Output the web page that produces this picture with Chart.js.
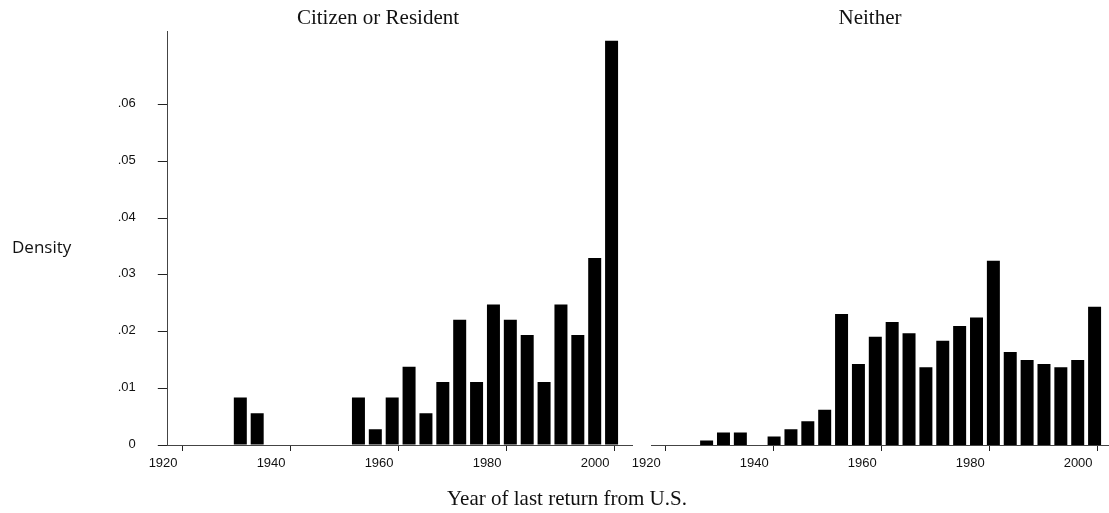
<!DOCTYPE html>
<html>
<head>
<meta charset="utf-8">
<script src="https://cdn.jsdelivr.net/npm/chart.js@4.4.1/dist/chart.umd.min.js"></script>
<style>
  html, body { margin: 0; padding: 0; background: #fff; }
  body { width: 1109px; height: 513px; position: relative; overflow: hidden; }
  canvas { position: absolute; top: 0; }
  .t { position: absolute; white-space: nowrap; color: #111; line-height: 21px; font-size: 21px;
       font-family: "Liberation Serif", "Times New Roman", serif; text-align: center; }
  #ylab { position: absolute; left: 12px; top: 238px; font-family: "Open Sans", sans-serif;
          font-size: 17px; line-height: 17px; color: #111; }
</style>
</head>
<body>
<canvas id="left" width="640" height="513" style="left:0px"></canvas>
<canvas id="right" width="500" height="513" style="left:620px"></canvas>
<div class="t" style="left:278px; top:7px; width:200px;">Citizen or Resident</div>
<div class="t" style="left:770px; top:7px; width:200px;">Neither</div>
<div class="t" style="left:417px; top:488px; width:300px;">Year of last return from U.S.</div>
<div id="ylab">Density</div>
<script>
// Histogram bins: 24 bins of width 3.125 years starting at 1926 (bin midpoints)
const binMidpoints = [
  1927.563, 1930.688, 1933.813, 1936.938, 1940.063, 1943.188, 1946.313, 1949.438,
  1952.563, 1955.688, 1958.813, 1961.938, 1965.063, 1968.188, 1971.313, 1974.438,
  1977.563, 1980.688, 1983.813, 1986.938, 1990.063, 1993.188, 1996.313, 1999.438
];

// Density per bin, panel "Citizen or Resident"
const densityCitizen = [
  0, 0.0084, 0.0056, 0, 0, 0, 0, 0,
  0.0084, 0.0028, 0.0084, 0.0138, 0.0056, 0.0111, 0.0221, 0.0111,
  0.0248, 0.0221, 0.0194, 0.0111, 0.0248, 0.0194, 0.0330, 0.0713
];

// Density per bin, panel "Neither"
const densityNeither = [
  0.0008, 0.0022, 0.0022, 0, 0.0015, 0.0028, 0.0042, 0.0062,
  0.0231, 0.0143, 0.0191, 0.0217, 0.0197, 0.0137, 0.0184, 0.0210,
  0.0225, 0.0325, 0.0164, 0.0150, 0.0143, 0.0137, 0.0150, 0.0244
];

const xTickValues = [1920, 1940, 1960, 1980, 2000];
const yTickValues = [0, 0.01, 0.02, 0.03, 0.04, 0.05, 0.06];
const yTickLabels = ['0', '.01', '.02', '.03', '.04', '.05', '.06'];

const X_MIN = 1917.26, X_MAX = 2003.22;
const Y_MAX = 0.0729;

const tickFont = { family: '"Liberation Sans", Arial, sans-serif', size: 13 };
const axisColor = '#444';

function makeChart(id, values, showY, padding) {
  const points = values.map((v, i) => ({ x: binMidpoints[i], y: v }));
  return new Chart(document.getElementById(id), {
    type: 'bar',
    data: {
      datasets: [{
        data: points,
        backgroundColor: '#000',
        borderWidth: 0,
        barPercentage: 0.77,
        categoryPercentage: 1.0
      }]
    },
    options: {
      responsive: false,
      animation: false,
      devicePixelRatio: 1,
      layout: { padding: padding },
      plugins: { legend: { display: false }, tooltip: { enabled: false }, title: { display: false } },
      scales: {
        x: {
          type: 'linear',
          offset: false,
          min: X_MIN,
          max: X_MAX,
          afterBuildTicks: (s) => { s.ticks = xTickValues.map(v => ({ value: v })); },
          afterFit: (s) => { s.height = 30; },
          ticks: {
            autoSkip: false, maxRotation: 0, font: tickFont, color: '#111',
            padding: 5, labelOffset: -19.5,
            callback: (v) => String(v)
          },
          grid: { offset: false, drawOnChartArea: false, drawTicks: true, tickLength: 6, color: '#222', lineWidth: 1 },
          border: { display: true, color: axisColor, width: 1 }
        },
        y: {
          display: showY,
          min: 0,
          max: Y_MAX,
          afterBuildTicks: (s) => { s.ticks = yTickValues.map(v => ({ value: v })); },
          afterFit: (s) => { if (showY) s.width = 60; },
          ticks: {
            font: tickFont, color: '#111', padding: 22, labelOffset: -1,
            callback: (v) => { const k = yTickValues.findIndex(t => Math.abs(t - v) < 1e-9); return k >= 0 ? yTickLabels[k] : ''; }
          },
          grid: { drawOnChartArea: false, drawTicks: true, tickLength: 10, color: '#222', lineWidth: 1 },
          border: { display: true, color: axisColor, width: 1 }
        }
      }
    }
  });
}

makeChart('left', densityCitizen, true, { left: 107.8, top: 31.7, right: 8, bottom: 38 });
makeChart('right', densityNeither, false, { left: 31, top: 31.7, right: 5, bottom: 38 });
</script>
</body>
</html>
